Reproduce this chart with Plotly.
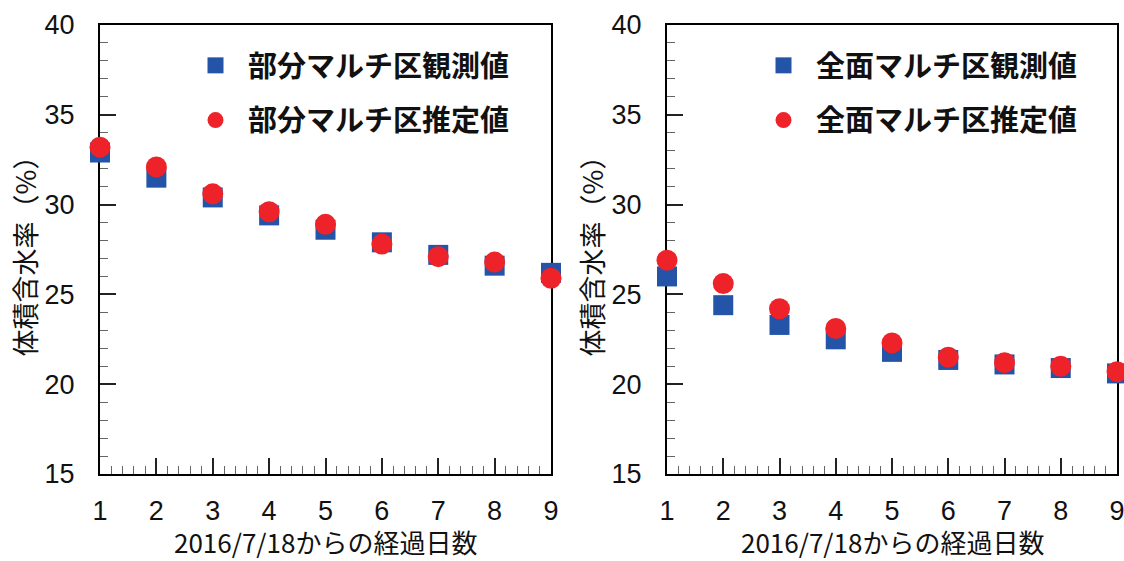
import plotly.graph_objects as go

days = [1, 2, 3, 4, 5, 6, 7, 8, 9]
partial_obs = [32.9, 31.5, 30.4, 29.4, 28.6, 27.9, 27.2, 26.6, 26.2]
partial_est = [33.2, 32.1, 30.6, 29.6, 28.9, 27.8, 27.1, 26.8, 25.9]
full_obs = [26.0, 24.4, 23.3, 22.5, 21.8, 21.35, 21.1, 20.9, 20.6]
full_est = [26.9, 25.6, 24.2, 23.1, 22.3, 21.5, 21.2, 21.0, 20.7]

names_left = ["部分マルチ区観測値", "部分マルチ区推定値"]
names_right = ["全面マルチ区観測値", "全面マルチ区推定値"]
x_title = "2016/7/18からの経過日数"
y_title = "体積含水率（%）"
y_ticks = [15, 20, 25, 30, 35, 40]
x_ticks = days

BLUE = "#2354a8"
RED = "#ee2229"
JP = "Noto Sans CJK JP"
NUM = "Liberation Sans, Arial"

fig = go.Figure()

def add(xa, ya, y, name, sym, color, size, legend, grp):
    fig.add_trace(go.Scatter(
        x=days, y=y, mode="markers", name=name, xaxis=xa, yaxis=ya,
        marker=dict(symbol=sym, color=color, size=size, line=dict(width=0)),
        cliponaxis=False, legend=legend, legendgroup=grp,
    ))

add("x", "y", partial_obs, names_left[0], "square", BLUE, 20, "legend", "a")
add("x", "y", partial_est, names_left[1], "circle", RED, 21, "legend", "b")
add("x2", "y2", full_obs, names_right[0], "square", BLUE, 20, "legend2", "c")
add("x2", "y2", full_est, names_right[1], "circle", RED, 21, "legend2", "d")

W, H = 1124, 561
ydom = [1 - 474 / H, 1 - 25 / H]

def xaxis(dom, anchor):
    return dict(
        domain=dom, anchor=anchor, range=[1, 9], tickvals=x_ticks,
        showline=True, linecolor="black", linewidth=2, mirror=True,
        ticks="inside", ticklen=16, tickwidth=1.5, tickcolor="#222",
        minor=dict(ticks="inside", ticklen=8, dtick=0.2, tickwidth=1, tickcolor="#666"),
        showgrid=False, zeroline=False, layer="below traces", automargin=False,
        tickfont=dict(family=NUM, size=27, color="#111"),
        ticklabelstandoff=12, ticklabeloverflow="allow",
    )

def yaxis(anchor):
    return dict(
        domain=ydom, anchor=anchor, range=[15, 40], tickvals=y_ticks,
        showline=True, linecolor="black", linewidth=2, mirror=True,
        ticks="inside", ticklen=16, tickwidth=1.5, tickcolor="#222",
        minor=dict(ticks="inside", ticklen=8, dtick=1, tickwidth=1, tickcolor="#666"),
        showgrid=False, zeroline=False, layer="below traces", automargin=False,
        tickfont=dict(family=NUM, size=27, color="#111"),
        ticklabelstandoff=18, ticklabeloverflow="allow",
        title=dict(text=y_title, font=dict(family=JP, size=27, color="#111"), standoff=0),
    )

legend_common = dict(
    bgcolor="rgba(0,0,0,0)", font=dict(family=JP, size=29, color="#111", weight="bold"),
    tracegroupgap=14, traceorder="grouped", xanchor="left", yanchor="top",
    itemwidth=55,
)

annotations = [
    dict(text=x_title, xref=xr, x=0.5, yref="paper", y=0,
         xanchor="center", yanchor="bottom", showarrow=False,
         borderpad=0, font=dict(family=JP, size=26, color="#111"))
    for xr in ("x domain", "x2 domain")
]

fig.update_layout(
    width=W, height=H, margin=dict(l=0, r=0, t=0, b=0, autoexpand=False),
    paper_bgcolor="white", plot_bgcolor="white",
    xaxis=xaxis([100 / W, 551 / W], "y"),
    yaxis=yaxis("x"),
    xaxis2=xaxis([667 / W, 1117 / W], "y2"),
    yaxis2=yaxis("x2"),
    legend=dict(x=183 / W, y=1 - 40 / H, **legend_common),
    legend2=dict(x=751 / W, y=1 - 40 / H, **legend_common),
    showlegend=True,
    annotations=annotations,
)

fig.write_html(
    "out.html",
    config={"displayModeBar": False},
    post_script="document.body.style.margin='0';document.body.style.overflow='hidden';",
)
